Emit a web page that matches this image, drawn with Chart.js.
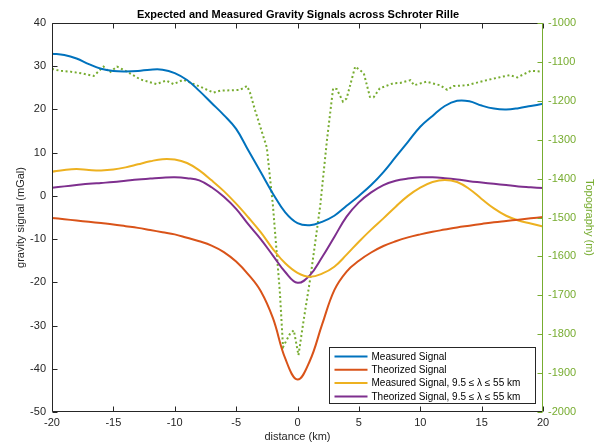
<!DOCTYPE html>
<html>
<head>
<meta charset="utf-8">
<script src="https://cdn.jsdelivr.net/npm/chart.js@4.4.1/dist/chart.umd.min.js"></script>
<style>
  html, body { margin: 0; padding: 0; background: #fff; }
</style>
</head>
<body>
<canvas id="gravityChart" width="596" height="444"></canvas>
<script>
// distance along the profile (km)
const distance = [-20,-19,-18,-17,-16,-15,-14,-13,-12,-11,-10,-9,-8,-7,-6,-5,-4,-3,-2,-1,
  0,1,2,3,4,5,6,7,8,9,10,11,12,13,14,15,16,17,18,19,20];

// gravity signals (mGal)
const measuredSignal = [32.9,32.6,31.8,30.5,29.4,28.9,28.8,28.9,29.2,29.2,
  28.4,26.8,24.3,21.5,18.7,15.5,10.5,5.5,0.5,-3.8,
  -6.3,-6.8,-6.0,-4.6,-2.3,0.0,2.5,5.5,9.0,12.5,
  16.0,18.5,20.8,22.0,21.9,20.9,20.2,20.0,20.3,20.8,21.3];
const theorizedSignal = [-5.1,-5.4,-5.7,-6.0,-6.3,-6.6,-7.0,-7.4,-7.9,-8.4,
  -8.9,-9.7,-10.5,-11.5,-13.0,-15.2,-18.2,-22.0,-28.3,-37.6,
  -42.5,-38.2,-29.8,-21.8,-17.5,-15.0,-13.1,-11.6,-10.5,-9.6,
  -8.9,-8.3,-7.8,-7.3,-6.9,-6.5,-6.1,-5.8,-5.5,-5.2,-4.9];
const measuredFiltered = [5.6,6.0,6.2,6.0,5.9,6.1,6.6,7.3,8.0,8.5,
  8.4,7.6,5.9,3.6,1.1,-1.8,-5.0,-8.4,-12.3,-15.6,
  -17.8,-18.7,-18.0,-16.4,-13.6,-10.6,-7.8,-5.2,-2.5,0.0,
  1.9,3.2,3.7,3.2,1.6,-0.7,-2.9,-4.6,-5.7,-6.4,-7.1];
const theorizedFiltered = [1.9,2.2,2.5,2.8,3.0,3.2,3.5,3.8,4.0,4.2,
  4.3,4.1,3.6,2.0,-0.2,-3.0,-6.6,-10.0,-13.8,-17.6,
  -20.1,-18.4,-14.2,-9.5,-4.8,-1.5,0.8,2.5,3.5,4.0,
  4.3,4.3,4.1,3.8,3.4,3.1,2.8,2.5,2.2,2.0,1.8];

// topography profile (m)
const topoDistance = [-20,-19.3,-18.5,-17.5,-16.6,-15.8,-15.3,-14.7,-13.9,-12.8,-11.5,-10.7,-10.1,-9.3,-8.6,-7.9,
  -6.85,-6.3,-5.5,-4.7,-4.1,-3.85,-3.45,-2.8,-2.5,-2.0,-1.43,-1.18,-0.6,-0.3,0.08,0.5,1.05,1.85,2.4,2.9,
  3.2,3.7,4.0,4.7,5.4,5.9,6.2,6.7,7.8,8.35,9.2,9.5,10.5,11.6,12.2,12.7,13.8,15.4,16.4,17.3,17.9,19.0,20];
const topography = [-1118,-1123,-1125,-1130,-1136,-1112,-1127,-1112,-1125,-1145,-1157,-1148,-1157,-1146,-1155,-1164,
  -1179,-1174,-1173,-1172,-1162,-1181,-1225,-1290,-1320,-1470,-1695,-1833,-1798,-1790,-1854,-1764,-1655,-1470,-1301,-1168,
  -1170,-1202,-1194,-1112,-1129,-1190,-1191,-1168,-1155,-1154,-1147,-1160,-1151,-1160,-1172,-1162,-1160,-1147,-1140,-1134,-1140,-1123,-1125];

const xTicks = [-20, -15, -10, -5, 0, 5, 10, 15, 20];
const axisInk = '#262626';
const topoGreen = '#77AC30';

Chart.defaults.font.family = "'Liberation Sans', Arial, Helvetica, sans-serif";
Chart.defaults.font.size = 11;
Chart.defaults.color = axisInk;

function toPoints(xs, ys) {
  return xs.map((x, i) => ({ x: x, y: ys[i] }));
}

function gravityLine(label, values, color) {
  return {
    label: label,
    data: toPoints(distance, values),
    yAxisID: 'y',
    borderColor: color,
    backgroundColor: color,
    borderWidth: 2,
    pointRadius: 0,
    tension: 0.4,
    fill: false
  };
}

// box, inward ticks and legend drawn like the matlab figure
const matlabFrame = {
  id: 'matlabFrame',
  afterDatasetsDraw(chart) {
    const { ctx, chartArea: a, scales } = chart;
    const L = Math.round(a.left) + 0.5;
    const R = Math.round(a.right) - 0.5;
    const T = Math.round(a.top) + 0.5;
    const B = Math.round(a.bottom) - 0.5;
    const tick = 5;
    ctx.save();
    ctx.lineWidth = 1;
    ctx.strokeStyle = axisInk;
    ctx.beginPath();
    ctx.moveTo(R, T); ctx.lineTo(L, T); ctx.lineTo(L, B); ctx.lineTo(R, B);
    scales.x.ticks.forEach(t => {
      const px = Math.round(scales.x.getPixelForValue(t.value)) + 0.5;
      ctx.moveTo(px, B); ctx.lineTo(px, B - tick);
      ctx.moveTo(px, T); ctx.lineTo(px, T + tick);
    });
    scales.y.ticks.forEach(t => {
      const py = Math.round(scales.y.getPixelForValue(t.value)) + 0.5;
      ctx.moveTo(L, py); ctx.lineTo(L + tick, py);
    });
    ctx.stroke();

    ctx.strokeStyle = topoGreen;
    ctx.beginPath();
    ctx.moveTo(R, T - 0.5); ctx.lineTo(R, B + 0.5);
    scales.y2.ticks.forEach(t => {
      const py = Math.round(scales.y2.getPixelForValue(t.value)) + 0.5;
      ctx.moveTo(R, py); ctx.lineTo(R - tick, py);
    });
    ctx.stroke();

    // legend (gravity series only)
    const items = chart.data.datasets.filter(d => d.yAxisID === 'y');
    const boxW = 206, boxH = 56;
    const bx = Math.round(a.right) - 8 - boxW + 0.5;
    const by = Math.round(a.bottom) - 9 - boxH + 0.5;
    ctx.fillStyle = '#fff';
    ctx.fillRect(bx, by, boxW, boxH);
    ctx.strokeStyle = axisInk;
    ctx.strokeRect(bx, by, boxW, boxH);
    ctx.font = "10px 'Liberation Sans', Arial, sans-serif";
    ctx.textBaseline = 'middle';
    ctx.textAlign = 'left';
    items.forEach((d, i) => {
      const rowY = by + 9 + i * 13.3;
      ctx.strokeStyle = d.borderColor;
      ctx.lineWidth = 2;
      ctx.beginPath();
      ctx.moveTo(bx + 5, rowY); ctx.lineTo(bx + 38, rowY);
      ctx.stroke();
      ctx.fillStyle = '#000';
      ctx.fillText(d.label, bx + 42, rowY + 0.5);
    });
    ctx.restore();
  }
};

new Chart(document.getElementById('gravityChart'), {
  type: 'line',
  data: {
    datasets: [
      gravityLine('Measured Signal', measuredSignal, '#0072BD'),
      gravityLine('Theorized Signal', theorizedSignal, '#D95319'),
      gravityLine('Measured Signal, 9.5 \u2264 \u03BB \u2264 55 km', measuredFiltered, '#EDB120'),
      gravityLine('Theorized Signal, 9.5 \u2264 \u03BB \u2264 55 km', theorizedFiltered, '#7E2F8E'),
      {
        label: 'Topography',
        data: toPoints(topoDistance, topography),
        yAxisID: 'y2',
        borderColor: topoGreen,
        borderWidth: 2,
        borderDash: [2, 2.6],
        pointRadius: 0,
        tension: 0,
        fill: false
      }
    ]
  },
  options: {
    responsive: false,
    animation: false,
    devicePixelRatio: 1,
    layout: { padding: { top: 0, left: 0, right: 0, bottom: 0 } },
    plugins: {
      legend: { display: false },
      tooltip: { enabled: false },
      title: {
        display: true,
        text: 'Expected and Measured Gravity Signals across Schroter Rille',
        color: '#000',
        font: { size: 11, weight: 'bold', lineHeight: 1.2 },
        padding: { top: 8, bottom: 1.8 }
      }
    },
    scales: {
      x: {
        type: 'linear',
        min: -20,
        max: 20,
        afterBuildTicks: scale => { scale.ticks = xTicks.map(v => ({ value: v })); },
        afterFit: scale => { scale.height = 32; },
        grid: { display: false, drawTicks: false },
        border: { display: false },
        ticks: { padding: 4, color: axisInk, maxRotation: 0, callback: v => String(v) },
        title: { display: true, text: 'distance (km)', color: axisInk, padding: { top: 0, bottom: 0 } }
      },
      y: {
        position: 'left',
        min: -50,
        max: 40,
        afterFit: scale => { scale.width = 52; },
        grid: { display: false, drawTicks: false },
        border: { display: false },
        ticks: { stepSize: 10, padding: 6, color: axisInk, callback: v => String(v) },
        title: { display: true, text: 'gravity signal (mGal)', color: axisInk, padding: { top: 14, bottom: 0 } }
      },
      y2: {
        position: 'right',
        min: -2000,
        max: -1000,
        afterFit: scale => { scale.width = 53; },
        grid: { display: false, drawTicks: false },
        border: { display: false },
        ticks: { stepSize: 100, padding: 5, color: topoGreen, callback: v => String(v) },
        title: { display: true, text: 'Topography (m)', color: topoGreen, padding: { top: 0, bottom: 0 } }
      }
    }
  },
  plugins: [matlabFrame]
});
</script>
</body>
</html>
